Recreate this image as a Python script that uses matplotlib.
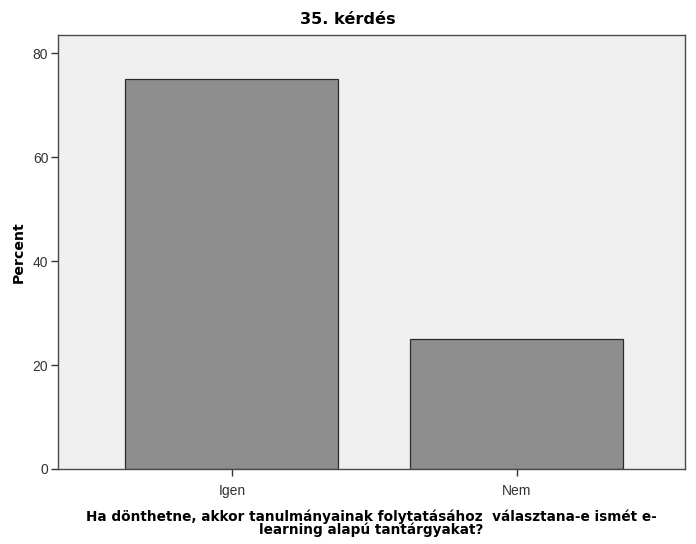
import matplotlib.pyplot as plt

# Data
categories = ['Igen', 'Nem']
percents = [75.0, 25.0]
yticks = [0, 20, 40, 60, 80]

plt.rcParams['font.family'] = ['Liberation Sans', 'DejaVu Sans']

fig = plt.figure(figsize=(6.96, 5.44), dpi=100)
ax = fig.add_axes([0.0833, 0.1379, 0.9009, 0.7978])
ax.set_facecolor('#f0f0f0')

x = range(len(categories))
ax.bar(x, percents, width=0.747, color='#8e8e8e', edgecolor='#2b2b2b', linewidth=0.9)

ax.set_xlim(-0.61, 1.59)
ax.set_ylim(0, 83.5)
ax.set_xticks(list(x))
ax.set_xticklabels(categories, fontsize=10)
ax.set_yticks(yticks)
ax.set_yticklabels([str(t) for t in yticks], fontsize=10)
ax.tick_params(direction='out', length=5, width=1, colors='#333333', labelcolor='#333333')
ax.tick_params(axis='x', pad=6)
ax.tick_params(axis='y', pad=2)

for s in ax.spines.values():
    s.set_color('#4a4a4a')
    s.set_linewidth(1)

bold = dict(family='DejaVu Sans', fontweight='bold')
ax.set_ylabel('Percent', fontsize=10.2, labelpad=5, **bold)
ax.set_xlabel('Ha dönthetne, akkor tanulmányainak folytatásához  választana-e ismét e-\nlearning alapú tantárgyakat?',
              fontsize=9.8, labelpad=8, linespacing=0.92, **bold)
fig.suptitle('35. kérdés', x=0.5, y=0.978, fontsize=11.6, **bold)

fig.savefig('out.png', dpi=100)
